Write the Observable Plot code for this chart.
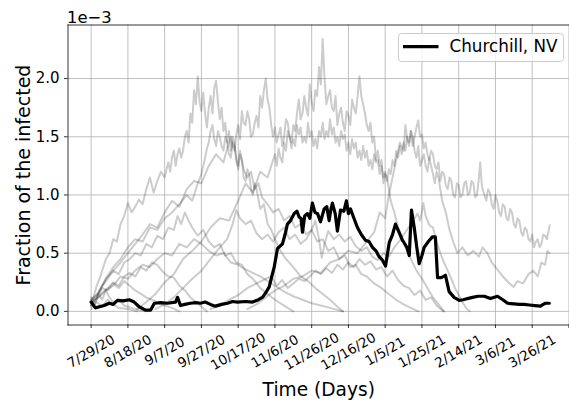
<!DOCTYPE html>
<html><head><meta charset="utf-8">
<script src="https://cdn.jsdelivr.net/npm/d3@7"></script>
<script src="https://cdn.jsdelivr.net/npm/@observablehq/plot@0.6"></script>
<style>
html,body{margin:0;padding:0;background:#fff;}
#wrap{position:relative;width:569px;height:406px;overflow:hidden;font-family:"DejaVu Sans",sans-serif;}
#legend{position:absolute;left:0;top:0;pointer-events:none;}
</style></head><body><div id="wrap"></div>
<script>
// x: days since 7/29/20 ; y: fraction of infected in units of 1e-3
const tickDays = [0,20,40,60,80,100,120,140,160,180,200,220,240,260];
const tickLabels = ["7/29/20","8/18/20","9/7/20","9/27/20","10/17/20","11/6/20","11/26/20","12/16/20","1/5/21","1/25/21","2/14/21","3/6/21","3/26/21",""];
const yTicks = [0,0.5,1,1.5,2];
const legendLabel = "Churchill, NV";

const churchill = [[0,.08],[2.3,.03],[4.5,.04],[7.1,.05],[9.8,.07],[12,.06],[14.3,.095],[17.5,.09],[20.7,.1],[23.4,.08],[26.1,.04],[29.6,.01],[32.3,.01],[34.4,.07],[38,.075],[41.5,.07],[45.9,.08],[47,.12],[48.6,.05],[51,.06],[54,.07],[57,.075],[59.5,.07],[62,.08],[64.9,.06],[67.6,.045],[71,.06],[74.2,.07],[77,.085],[79.6,.08],[84,.085],[87.8,.08],[91,.1],[93.2,.12],[95,.16],[96.9,.21],[98.3,.3],[99.6,.38],[101.4,.54],[102.8,.56],[104.1,.58],[105.5,.66],[106.8,.75],[108.5,.78],[110.5,.84],[112,.86],[113.2,.81],[114.2,.8],[115,.68],[116.2,.82],[117.7,.84],[119,.8],[120.4,.93],[121.8,.85],[123.2,.84],[124.8,.77],[126.8,.88],[128.2,.9],[129.5,.78],[130.5,.88],[131.3,.93],[132.8,.84],[134,.69],[135.7,.87],[137.5,.86],[138.9,.95],[140,.84],[141.1,.88],[143,.8],[144.9,.72],[147,.66],[149.3,.61],[151.2,.6],[153.1,.55],[155,.52],[156.7,.47],[158.5,.44],[160.2,.39],[162.2,.59],[164,.66],[165.6,.75],[167.5,.68],[169.4,.61],[170.3,.59],[171.8,.55],[173.1,.48],[174.3,.87],[175.8,.72],[177.2,.55],[178.5,.41],[180,.48],[181.2,.55],[183.5,.6],[185.7,.64],[187.3,.64],[188.5,.29],[190.5,.29],[192.8,.31],[194.8,.17],[197.5,.12],[200.3,.095],[202.5,.1],[204.8,.11],[207.5,.12],[210.5,.13],[213.9,.13],[217.3,.11],[221.1,.13],[224,.1],[226.6,.07],[230,.065],[233,.06],[235.6,.06],[238.5,.055],[241.5,.05],[244.5,.045],[246,.06],[247.2,.07],[249.3,.07]];

const county01 = [[0,.05],[3,.22],[5,.3],[8,.45],[10,.5],[12,.62],[14,.6],[16,.75],[18,.82],[20,.93],[22,.85],[24,.9],[26,.96],[28,.92],[30,1.05],[32,1.15],[34,1.02],[36,1.12],[38,1.2],[40,1.15],[41,1.22],[42,1.28],[43,1.2],[44,1.32],[45,1.38],[46,1.25],[47,1.35],[48,1.4],[49,1.32],[50,1.38],[51,1.5],[52,1.55],[53,1.45],[54,1.7],[55,1.62],[56,1.9],[57,1.78],[58,2.02],[59,1.8],[60,1.72],[61,1.88],[62,1.7],[63,1.58],[64,1.75],[65,1.85],[66,1.7],[67,1.92],[68,1.98],[69,1.8],[70,1.65],[71,1.75],[72,1.55],[73,1.62],[74,1.45],[75,1.55],[76,1.38],[77,1.5],[78,1.45],[79,1.3],[80,1.22],[81,1.35],[82,1.3],[83,1.15],[84,1.12],[85,1.22],[86,1.18],[87,1.05],[88,1.0],[89,1.1],[90,1.05],[92,.88],[94,.92],[96,.75],[98,.7],[100,.62],[103,.52],[106,.45],[110,.38],[114,.3],[118,.26],[122,.2],[126,.15],[130,.1],[134,.04],[137,0]];
const county02 = [[0,.1],[4,.16],[8,.28],[12,.35],[16,.42],[20,.5],[24,.58],[28,.66],[32,.75],[36,.72],[40,.85],[44,.95],[48,.9],[52,1.05],[56,1.12],[60,1.1],[64,1.25],[68,1.35],[72,1.28],[74,1.4],[76,1.5],[77,1.42],[78,1.38],[79,1.52],[80,1.6],[81,1.48],[82,1.72],[83,1.62],[84,1.6],[85,1.72],[86,1.65],[87,1.5],[88,1.52],[89,1.62],[90,1.68],[91,1.58],[92,1.85],[93,1.75],[94,1.9],[95,2.0],[96,1.82],[97,1.75],[98,1.6],[99,1.5],[100,1.58],[101,1.45],[102,1.52],[103,1.58],[104,1.42],[105,1.5],[106,1.65],[107,1.62],[108,1.5],[109,1.45],[110,1.6],[111,1.55],[112,1.7],[113,1.82],[114,1.65],[115,1.7],[116,1.85],[117,1.75],[118,1.68],[119,1.95],[120,1.8],[121,1.72],[122,1.9],[123,1.85],[124,2.1],[125,1.95],[126,2.34],[127,2.0],[128,1.78],[129,1.85],[130,1.9],[131,1.75],[132,1.72],[133,1.85],[134,1.6],[135,1.7],[136,1.75],[137,1.62],[138,1.55],[139,1.72],[140,1.68],[141,1.6],[142,1.82],[143,1.75],[144,1.7],[145,1.85],[146,2.02],[147,1.85],[148,1.78],[149,1.7],[150,1.6],[151,1.55],[152,1.62],[153,1.45],[154,1.5],[155,1.3],[156,1.38],[157,1.25],[158,1.3],[159,1.1],[160,1.18],[161,1.15],[163,.95],[165,.85],[167,.72],[169,.65],[171,.55],[174,.45],[177,.35],[180,.28],[183,.2],[186,.12],[189,.06],[192,0]];
const county03 = [[25,.02],[30,.08],[35,.15],[40,.25],[45,.32],[50,.45],[55,.52],[60,.6],[65,.72],[70,.8],[75,.78],[80,.95],[84,1.1],[88,1.02],[92,1.2],[96,1.15],[100,1.35],[101,1.25],[102,1.4],[103,1.32],[104,1.28],[105,1.45],[106,1.38],[107,1.55],[108,1.5],[109,1.4],[110,1.48],[111,1.42],[112,1.6],[113,1.52],[114,1.58],[115,1.45],[116,1.5],[117,1.45],[118,1.62],[119,1.5],[120,1.55],[121,1.42],[122,1.48],[123,1.4],[124,1.55],[125,1.5],[126,1.62],[127,1.48],[128,1.55],[129,1.5],[130,1.65],[131,1.52],[132,1.58],[133,1.45],[134,1.5],[135,1.42],[136,1.55],[137,1.48],[138,1.52],[139,1.38],[140,1.45],[141,1.35],[142,1.48],[143,1.4],[144,1.45],[145,1.32],[146,1.38],[147,1.3],[148,1.42],[149,1.32],[150,1.38],[151,1.25],[152,1.3],[153,1.22],[154,1.35],[155,1.28],[156,1.3],[157,1.18],[158,1.25],[159,1.15],[160,1.2],[161,1.12],[162,1.22],[163,1.18],[164,1.3],[165,1.25],[166,1.38],[167,1.32],[168,1.42],[169,1.35],[170,1.45],[171,1.38],[172,1.5],[173,1.45],[174,1.55],[175,1.42],[176,1.5],[177,1.58],[178,1.64],[179,1.5],[180,1.52],[181,1.4],[182,1.45],[183,1.35],[184,1.3],[185,1.38],[186,1.35],[187,1.25],[188,1.22],[189,1.28],[190,1.12],[191,1.2],[192,1.18],[193,1.08],[194,1.05],[195,1.15],[196,1.12],[197,1.0],[198,.98],[199,1.1],[200,1.08],[201,.98],[202,1.0],[203,1.1],[204,1.12],[205,1.0],[206,1.02],[207,1.12],[208,1.1],[209,.98],[210,1.0],[211,1.15],[211.7,1.28],[212.5,1.1],[213,1.05],[214,1.0],[215,.95],[216,1.05],[217,1.02],[218,.92],[219,.88],[220,1.0],[221,.95],[222,.85],[223,.82],[224,.92],[225,.9],[226,.8],[227,.78],[228,.88],[229,.85],[230,.75],[231,.72],[232,.8],[233,.78],[234,.68],[235,.65],[236,.72],[237,.7],[238,.62],[239,.6],[240,.66],[241,.55],[242,.6],[243,.62],[244,.55],[245,.58],[246,.66],[247,.65],[248,.62],[249,.7],[249.5,.74]];
const county04 = [[85,.02],[90,.06],[95,.12],[100,.18],[105,.22],[110,.28],[115,.3],[120,.35],[125,.33],[130,.42],[135,.45],[140,.52],[145,.5],[150,.6],[154,.68],[157,.85],[160,.8],[162,1.0],[164,1.15],[166,1.3],[168,1.45],[170,1.38],[171,1.6],[172,1.48],[173,1.42],[174,1.55],[175,1.5],[176,1.38],[177,1.32],[178,1.42],[179,1.25],[180,1.3],[181,1.35],[182,1.25],[183,1.2],[184,1.32],[185,1.25],[186,1.18],[187,1.1],[188,1.2],[189,1.15],[190,1.05],[191,.95],[193,.85],[195,.7],[197,.6],[199.3,.5],[202,.55],[205,.48],[208,.52],[211,.47],[213,.55],[215.6,.5],[218,.42],[221,.36],[224,.3],[227,.25],[229.8,.21],[232,.26],[235,.24],[238,.32],[240.6,.35],[243,.3],[245,.42],[247,.4],[248.3,.52],[249.5,.5]];
const county05 = [[35,.02],[40,.06],[45,.12],[50,.2],[55,.28],[60,.35],[65,.45],[70,.55],[74,.62],[77,.75],[79,.87],[81,.8],[84,.75],[87,.78],[90,.67],[93,.62],[96,.66],[99,.6],[102,.68],[105,.72],[108,.62],[111,.66],[114,.58],[117,.62],[120,.7],[122,.78],[124,.62],[125.5,.46],[127,.58],[129,.69],[132,.62],[135,.66],[138,.6],[141,.64],[144,.56],[147,.52],[150,.55],[153,.47],[156,.44],[159,.5],[162,.47],[165,.55],[168,.61],[171,.68],[174,.75],[176,.8],[177.6,.84],[179,.78],[180.8,.93],[182,.82],[184,.74],[186,.72],[188,.6],[190,.5],[192,.42],[194,.35],[196,.28],[198,.2],[200,.14],[202,.08],[204,.03],[206,0]];
const county06 = [[65,.02],[70,.05],[75,.1],[80,.14],[85,.2],[90,.24],[95,.28],[98,.3],[101,.22],[104,.27],[107,.2],[110,.24],[113,.28],[116,.26],[119,.3],[122,.35],[125,.32],[128,.37],[131,.33],[134,.4],[137,.36],[140,.42],[143,.38],[146,.45],[149,.4],[152,.43],[155,.36],[158,.38],[161,.3],[164,.35],[167,.27],[170,.22],[173,.2],[176,.14],[179,.18],[182,.1],[185,.12],[188,.05],[191.7,0]];
const county07 = [[0,.08],[4,.12],[8,.18],[12,.22],[16,.3],[20,.28],[24,.35],[28,.4],[32,.38],[36,.45],[40,.5],[44,.48],[48,.58],[52,.55],[56,.62],[60,.58],[64,.52],[68,.48],[72,.5],[76,.42],[80,.4],[84,.36],[88,.33],[92,.3],[95,.27],[100,.22],[105,.17],[110,.13],[115,.1],[120,.07],[125,.05],[130,.03],[137,0]];
const county08 = [[0,.1],[3,.14],[6,.22],[9,.28],[12,.35],[15,.32],[18,.42],[21,.45],[24,.5],[27,.48],[30,.58],[33,.55],[36,.65],[39,.62],[42,.72],[45,.7],[47,.82],[49,.75],[51,.85],[53,.78],[55,.72],[58,.65],[61,.7],[64,.6],[67,.55],[70,.58],[73,.48],[76,.5],[79,.42],[82,.4],[85,.32],[88,.28],[92,.2],[96,.15],[100,.1],[105,.05],[110,0]];
const county09 = [[0,.05],[3,.1],[6,.16],[9,.2],[12,.25],[15,.22],[18,.3],[21,.33],[24,.3],[27,.38],[30,.35],[33,.42],[36,.4],[39,.34],[42,.3],[45,.29],[48,.22],[51,.18],[54,.12],[57,.08],[60,.04],[63,0]];
const county10 = [[0,.08],[3,.12],[6,.2],[9,.18],[12,.24],[15,.2],[18,.26],[21,.22],[24,.18],[27,.15],[30,.12],[33,.1],[36,.08],[40,.05],[44,.03],[48,0]];
const county11 = [[0,.12],[2,.06],[4,.15],[6,.1],[8,.18],[10,.12],[12,.08],[15,.1],[18,.05],[22,.03],[26,.01],[30,0]];
const county12 = [[0,.02],[3,.08],[6,.04],[9,.1],[12,.06],[15,.03],[20,.02],[25,0]];
const county13 = [[0,.05],[4,.15],[8,.28],[12,.38],[16,.45],[20,.55],[24,.62],[28,.6],[32,.72],[36,.7],[40,.8],[44,.85],[48,.92],[52,1.0],[55,.95],[58,1.1],[60,1.18],[61,1.25],[62,1.32],[63,1.4],[64,1.45],[65,1.55],[66,1.6],[67,1.48],[68,1.42],[69,1.55],[70,1.5],[71,1.42],[72,1.38],[73,1.5],[74,1.45],[75,1.35],[76,1.32],[77,1.45],[78,1.42],[79,1.3],[80,1.25],[81,1.38],[83,1.22],[85,1.15],[87,1.2],[89,1.05],[91,1.1],[93,.98],[96,.92],[99,.85],[102,.88],[105,.78],[108,.82],[111,.72],[114,.75],[117,.66],[120,.7],[123,.6],[126,.62],[129,.52],[132,.55],[135,.45],[138,.48],[141,.38],[144,.4],[147,.32],[150,.3],[154,.24],[158,.2],[162,.15],[166,.1],[170,.06],[174,.03],[178,0]];

const otherCounties = [county01,county02,county03,county04,county05,county06,county07,county08,county09,county10,county11,county12,county13];

const grayRows = [];
otherCounties.forEach((s, k) => s.forEach(([d, v]) => grayRows.push({county: k, day: d, value: v})));
const blackRows = churchill.map(([d, v]) => ({day: d, value: v}));
const labelOf = new Map(tickDays.map((d, i) => [d, tickLabels[i]]));

const chart = Plot.plot({
  width: 569, height: 406,
  marginLeft: 67.5, marginRight: 0, marginTop: 24.5, marginBottom: 81.5,
  style: {fontFamily: "DejaVu Sans", background: "white", color: "black", overflow: "visible"},
  x: {type: "linear", domain: [-12.6, 260.3]},
  y: {type: "linear", domain: [-0.117, 2.46]},
  marks: [
    Plot.gridX(tickDays, {stroke: "#b0b0b0", strokeOpacity: 1, strokeWidth: 0.8}),
    Plot.gridY(yTicks, {stroke: "#b0b0b0", strokeOpacity: 1, strokeWidth: 0.8}),
    Plot.line(grayRows, {x: "day", y: "value", z: "county", stroke: "black", strokeOpacity: 0.2, strokeWidth: 2, clip: true}),
    Plot.line(blackRows, {x: "day", y: "value", stroke: "black", strokeWidth: 3.2, clip: true}),
    Plot.frame({anchor: "left", stroke: "black", strokeWidth: 0.8}),
    Plot.frame({anchor: "top", stroke: "black", strokeWidth: 0.8}),
    Plot.frame({anchor: "bottom", stroke: "black", strokeWidth: 0.8}),
    Plot.axisX(tickDays, {tickSize: 3.5, tickRotate: -30, textAnchor: "middle", lineAnchor: "middle", tickPadding: 23, tickFormat: d => labelOf.get(d), fontSize: 13.5, label: null, strokeWidth: 0.8}),
    Plot.axisY(yTicks, {tickSize: 3.5, tickPadding: 5, tickFormat: d => d.toFixed(1), fontSize: 15, label: null, strokeWidth: 0.8}),
    Plot.text(["1e\u22123"], {text: d => d, frameAnchor: "top-left", textAnchor: "start", lineAnchor: "bottom", dx: -1, dy: -2.5, fontSize: 16.4}),
    Plot.text(["Fraction of the infected"], {text: d => d, frameAnchor: "left", rotate: -90, textAnchor: "middle", lineAnchor: "bottom", dx: -38.5, fontSize: 19}),
    Plot.text(["Time (Days)"], {text: d => d, frameAnchor: "bottom", textAnchor: "middle", lineAnchor: "bottom", dy: 70.8, fontSize: 18.6})
  ]
});
const wrap = document.getElementById("wrap");
wrap.appendChild(chart);

// legend (inside the axes, upper right)
const leg = d3.select(wrap).append("svg").attr("id", "legend").attr("width", 569).attr("height", 406);
leg.append("rect").attr("x", 398.5).attr("y", 33.5).attr("width", 165).attr("height", 28).attr("rx", 3)
  .attr("fill", "white").attr("fill-opacity", 0.8).attr("stroke", "#cccccc").attr("stroke-width", 1);
leg.append("line").attr("x1", 403).attr("x2", 438.5).attr("y1", 46.7).attr("y2", 46.7)
  .attr("stroke", "black").attr("stroke-width", 3.2);
leg.append("text").attr("x", 449.5).attr("y", 52.3).attr("font-family", "DejaVu Sans").attr("font-size", 16.8)
  .attr("fill", "black").text(legendLabel);
</script></body></html>
